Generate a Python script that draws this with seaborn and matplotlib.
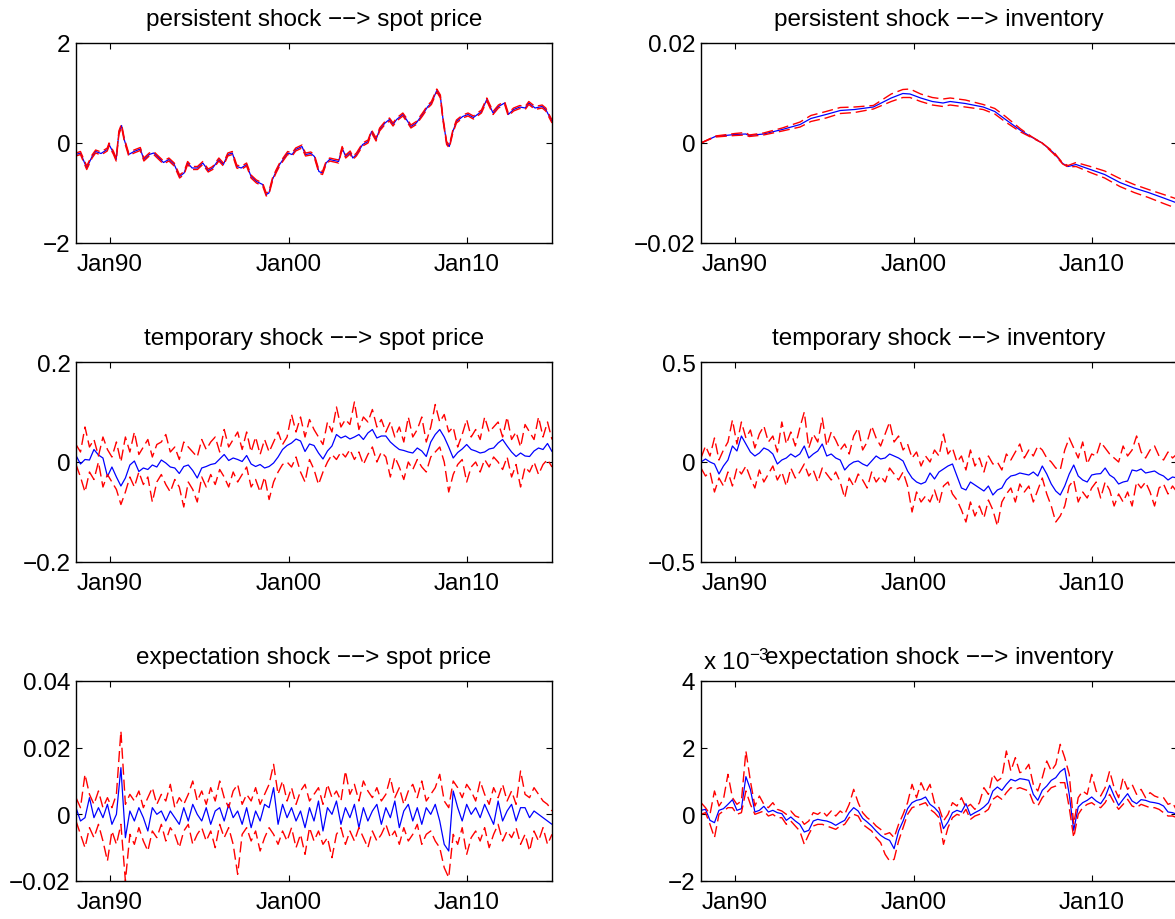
import numpy as np
import matplotlib
matplotlib.use("Agg")
import matplotlib.pyplot as plt
import seaborn as sns

# ---------------- data ----------------
# common quarterly grid (decimal years) for the noisy panels
grid_start, grid_end, grid_n = 1988.1, 2014.75, 107

# persistent shock --> spot price (irregular sampling, decimal years)
pp_years = [1988.1, 1988.35, 1988.7, 1989.0, 1989.2, 1989.5, 1989.85, 1989.95, 1990.2, 1990.35,
            1990.5, 1990.65, 1990.8, 1991.05, 1991.35, 1991.7, 1991.9, 1992.2, 1992.45, 1992.65,
            1993.0, 1993.3, 1993.6, 1993.9, 1994.15, 1994.35, 1994.6, 1994.9, 1995.2, 1995.5,
            1995.75, 1996.1, 1996.35, 1996.6, 1996.85, 1997.1, 1997.35, 1997.65, 1997.9, 1998.2,
            1998.55, 1998.75, 1998.9, 1999.1, 1999.3, 1999.5, 1999.75, 1999.95, 2000.2, 2000.4,
            2000.75, 2000.95, 2001.25, 2001.45, 2001.7, 2001.9, 2002.1, 2002.3, 2002.55, 2002.8,
            2003.0, 2003.2, 2003.45, 2003.6, 2003.8, 2004.15, 2004.45, 2004.65, 2004.9, 2005.1,
            2005.4, 2005.65, 2005.85, 2006.05, 2006.4, 2006.6, 2006.85, 2007.15, 2007.5, 2007.8,
            2008.0, 2008.3, 2008.5, 2008.65, 2008.85, 2009.0, 2009.2, 2009.4, 2009.75, 2010.05,
            2010.35, 2010.8, 2011.1, 2011.45, 2011.75, 2012.1, 2012.3, 2012.6, 2012.95, 2013.25,
            2013.45, 2013.8, 2014.2, 2014.4, 2014.75]
pp_mid = [-0.23, -0.2, -0.5, -0.27, -0.17, -0.21, -0.13, -0.03, -0.2, -0.33,
          0.2, 0.35, 0.07, -0.23, -0.17, -0.12, -0.33, -0.23, -0.2, -0.27,
          -0.39, -0.33, -0.43, -0.67, -0.6, -0.4, -0.5, -0.5, -0.4, -0.55,
          -0.5, -0.33, -0.43, -0.23, -0.2, -0.47, -0.5, -0.43, -0.67, -0.77,
          -0.83, -1.03, -1.0, -0.73, -0.57, -0.43, -0.3, -0.2, -0.23, -0.13,
          -0.07, -0.23, -0.21, -0.27, -0.57, -0.6, -0.4, -0.33, -0.35, -0.37,
          -0.1, -0.27, -0.19, -0.3, -0.23, -0.03, 0.03, 0.23, 0.07, 0.27,
          0.4, 0.47, 0.37, 0.47, 0.57, 0.47, 0.33, 0.4, 0.57, 0.73,
          0.8, 1.05, 0.93, 0.47, 0.0, -0.07, 0.23, 0.43, 0.53, 0.57,
          0.51, 0.63, 0.87, 0.6, 0.73, 0.8, 0.57, 0.67, 0.72, 0.7,
          0.8, 0.7, 0.73, 0.67, 0.43]
pp_hi = [-0.2, -0.17, -0.46, -0.24, -0.14, -0.18, -0.1, 0.0, -0.17, -0.3,
         0.24, 0.38, 0.1, -0.2, -0.14, -0.09, -0.3, -0.2, -0.17, -0.24,
         -0.36, -0.3, -0.4, -0.64, -0.57, -0.37, -0.47, -0.47, -0.37, -0.52,
         -0.47, -0.3, -0.4, -0.2, -0.17, -0.44, -0.47, -0.4, -0.64, -0.74,
         -0.8, -1.0, -0.97, -0.7, -0.54, -0.4, -0.27, -0.17, -0.2, -0.1,
         -0.04, -0.2, -0.18, -0.24, -0.54, -0.57, -0.37, -0.3, -0.32, -0.34,
         -0.07, -0.24, -0.16, -0.27, -0.2, 0.0, 0.06, 0.26, 0.1, 0.3,
         0.43, 0.5, 0.4, 0.5, 0.6, 0.5, 0.36, 0.43, 0.6, 0.76,
         0.83, 1.08, 0.96, 0.5, 0.03, -0.04, 0.26, 0.46, 0.56, 0.6,
         0.54, 0.66, 0.9, 0.63, 0.76, 0.83, 0.6, 0.7, 0.75, 0.73,
         0.83, 0.73, 0.76, 0.7, 0.46]
pp_lo = [-0.26, -0.23, -0.53, -0.3, -0.2, -0.24, -0.16, -0.06, -0.23, -0.36,
         0.17, 0.32, 0.04, -0.26, -0.2, -0.15, -0.36, -0.26, -0.23, -0.3,
         -0.42, -0.36, -0.46, -0.7, -0.63, -0.43, -0.53, -0.53, -0.43, -0.58,
         -0.53, -0.36, -0.46, -0.26, -0.23, -0.5, -0.53, -0.46, -0.7, -0.8,
         -0.86, -1.06, -1.03, -0.76, -0.6, -0.46, -0.33, -0.23, -0.26, -0.16,
         -0.1, -0.26, -0.24, -0.3, -0.6, -0.63, -0.43, -0.36, -0.38, -0.4,
         -0.13, -0.3, -0.22, -0.33, -0.26, -0.06, 0.0, 0.2, 0.04, 0.24,
         0.37, 0.44, 0.34, 0.44, 0.54, 0.44, 0.3, 0.37, 0.54, 0.7,
         0.77, 1.02, 0.9, 0.44, -0.03, -0.1, 0.2, 0.4, 0.5, 0.54,
         0.48, 0.6, 0.84, 0.57, 0.7, 0.77, 0.54, 0.64, 0.69, 0.67,
         0.77, 0.67, 0.7, 0.64, 0.4]

# persistent shock --> inventory
pi_years = [1988.1, 1988.9, 1990.0, 1990.6, 1990.8, 1991.6, 1992.65, 1993.65, 1994.25, 1995.1,
            1995.9, 1996.7, 1997.75, 1998.75, 1999.4, 1999.8, 2000.4, 2001.05, 2001.65, 2002.05,
            2002.9, 2003.9, 2004.55, 2005.15, 2006.0, 2006.6, 2007.2, 2007.85, 2008.35, 2008.65,
            2009.1, 2009.9, 2010.7, 2011.55, 2012.35, 2013.15, 2014.0, 2014.75]
pi_mid = [0.0, 0.0013, 0.0017, 0.0018, 0.0015, 0.0018, 0.0027, 0.0037, 0.0049, 0.0057,
          0.0065, 0.0067, 0.0072, 0.009, 0.0099, 0.0098, 0.009, 0.0083, 0.008, 0.0083,
          0.0079, 0.0072, 0.0063, 0.0047, 0.0025, 0.0012, 0.0, -0.002, -0.0041, -0.0047,
          -0.0043, -0.0053, -0.0063, -0.0079, -0.009, -0.0099, -0.011, -0.012]
pi_hi = [0.0, 0.0014, 0.0019, 0.0021, 0.0016, 0.002, 0.003, 0.0042, 0.0055, 0.0063,
         0.0071, 0.0072, 0.0075, 0.0098, 0.0107, 0.0108, 0.0098, 0.0091, 0.0088, 0.009,
         0.0086, 0.0077, 0.0069, 0.0053, 0.0028, 0.0013, 0.0, -0.0018, -0.004, -0.0045,
         -0.0039, -0.0047, -0.0056, -0.0071, -0.0083, -0.0093, -0.0103, -0.0112]
pi_lo = [0.0, 0.0012, 0.0015, 0.0016, 0.0013, 0.0016, 0.0024, 0.0032, 0.0043, 0.005,
         0.0059, 0.0061, 0.0068, 0.0083, 0.0091, 0.0091, 0.0083, 0.0076, 0.0073, 0.0076,
         0.0072, 0.0067, 0.0058, 0.0042, 0.0022, 0.0011, 0.0, -0.0022, -0.0042, -0.0048,
         -0.0047, -0.0059, -0.007, -0.0087, -0.0099, -0.0109, -0.0121, -0.0131]

# temporary shock --> spot price (quarterly grid)
tp_mid = [0.013, -0.004, 0.005, 0.004, 0.025, 0.014, 0.008, -0.029, -0.01, -0.03,
          -0.048, -0.032, -0.006, 0.002, -0.019, -0.012, -0.015, -0.006, -0.01, 0.004,
          -0.002, -0.01, -0.012, -0.023, -0.009, -0.006, -0.017, -0.032, -0.012, -0.009,
          -0.005, -0.003, 0.006, 0.015, 0.003, 0.008, 0.005, 0.001, 0.013, -0.004,
          -0.009, -0.005, -0.012, -0.009, -0.002, 0.01, 0.025, 0.033, 0.038, 0.046,
          0.042, 0.021, 0.036, 0.033, 0.018, 0.006, 0.022, 0.032, 0.055, 0.048,
          0.052, 0.046, 0.05, 0.055, 0.045, 0.058, 0.065, 0.048, 0.052, 0.052,
          0.04, 0.032, 0.025, 0.023, 0.02, 0.018, 0.028, 0.022, 0.011, 0.04,
          0.055, 0.065, 0.05, 0.03, 0.008, 0.019, 0.026, 0.035, 0.025, 0.022,
          0.018, 0.02, 0.026, 0.028, 0.038, 0.045, 0.032, 0.02, 0.011, 0.018,
          0.012, 0.011, 0.022, 0.028, 0.025, 0.037, 0.021]
tp_hi = [0.035, 0.02, 0.07, 0.03, 0.045, 0.012, 0.05, 0.025, 0.01, 0.04,
         0.0, 0.05, 0.02, 0.06, 0.015, 0.03, 0.045, 0.01, 0.035, 0.04,
         0.055, 0.02, 0.03, 0.005, 0.04, 0.03, 0.02, 0.01, 0.045, 0.025,
         0.04, 0.05, 0.02, 0.065, 0.03, 0.045, 0.06, 0.025, 0.06, 0.02,
         0.05, 0.015, 0.045, 0.02, 0.04, 0.06, 0.035, 0.05, 0.095, 0.06,
         0.09, 0.05, 0.085, 0.065, 0.05, 0.035, 0.08, 0.06, 0.11, 0.07,
         0.085, 0.075, 0.12, 0.065, 0.09, 0.08, 0.105, 0.07, 0.085, 0.06,
         0.08, 0.05, 0.07, 0.04, 0.09, 0.05, 0.065, 0.09, 0.04, 0.07,
         0.115, 0.08, 0.095, 0.06, 0.07, 0.03, 0.055, 0.085, 0.05, 0.065,
         0.045, 0.09, 0.06, 0.07, 0.08, 0.05, 0.09, 0.045, 0.06, 0.03,
         0.075, 0.06, 0.045, 0.09, 0.05, 0.08, 0.045]
tp_lo = [-0.005, -0.03, -0.06, -0.02, -0.035, 0.0, -0.05, -0.025, -0.04, -0.055,
         -0.085, -0.06, -0.03, -0.05, -0.02, -0.045, -0.03, -0.08, -0.04, -0.025,
         -0.045, -0.06, -0.035, -0.05, -0.09, -0.04, -0.055, -0.08, -0.03, -0.05,
         -0.025, -0.045, -0.015, -0.03, -0.05, -0.02, -0.04, -0.025, -0.01, -0.05,
         -0.035, -0.06, -0.03, -0.075, -0.04, -0.02, -0.005, 0.0, -0.01, 0.01,
         -0.02, -0.04, 0.005, -0.015, -0.045, -0.02, 0.0, 0.015, 0.005, 0.02,
         0.01, 0.025, 0.005, 0.02, -0.005, 0.015, 0.03, 0.0, 0.02, 0.01,
         -0.03, 0.01, -0.01, -0.035, 0.0, -0.015, 0.005, -0.01, -0.02, 0.01,
         0.02, 0.03, 0.0, -0.06, -0.025, -0.005, 0.005, -0.04, -0.01, 0.0,
         -0.02, 0.005, -0.01, 0.01, 0.0, -0.015, 0.01, -0.03, -0.005, -0.05,
         -0.01, -0.02, 0.0, -0.025, -0.005, 0.005, -0.01]

# temporary shock --> inventory (quarterly grid)
ti_mid = [0.0, 0.015, 0.0, -0.01, -0.06, -0.02, 0.01, 0.08, 0.055, 0.13,
          0.09, 0.05, 0.03, 0.045, 0.07, 0.06, 0.04, -0.01, 0.01, 0.02,
          0.04, 0.025, 0.04, 0.08, 0.02, 0.04, 0.055, 0.09, 0.03, 0.04,
          0.02, 0.01, -0.04, -0.015, 0.0, 0.005, -0.01, -0.02, 0.005, 0.03,
          0.015, 0.02, 0.04, 0.03, 0.02, 0.005, -0.045, -0.08, -0.1, -0.11,
          -0.1, -0.055, -0.085, -0.05, -0.035, -0.02, -0.01, -0.07, -0.13, -0.14,
          -0.1, -0.115, -0.13, -0.145, -0.12, -0.165, -0.14, -0.13, -0.09, -0.07,
          -0.065, -0.055, -0.06, -0.065, -0.05, -0.07, -0.02, -0.06, -0.11, -0.145,
          -0.165, -0.12, -0.06, -0.015, -0.07, -0.09, -0.1, -0.065, -0.06, -0.058,
          -0.03, -0.065, -0.08, -0.11, -0.1, -0.095, -0.04, -0.045, -0.035, -0.055,
          -0.05, -0.045, -0.06, -0.07, -0.09, -0.075, -0.08]
ti_hi = [0.02, 0.08, 0.03, 0.12, 0.01, 0.06, 0.1, 0.21, 0.09, 0.2,
         0.12, 0.16, 0.07, 0.14, 0.18, 0.1, 0.13, 0.05, 0.2, 0.09,
         0.15, 0.08, 0.17, 0.25, 0.07, 0.14, 0.1, 0.22, 0.08, 0.15,
         0.11, 0.06, 0.09, 0.04, 0.13, 0.17, 0.06, 0.1, 0.18, 0.12,
         0.08, 0.14, 0.2, 0.1, 0.13, 0.06, 0.09, 0.02, 0.05, -0.02,
         0.03, 0.0, 0.06, 0.03, 0.14, 0.04, 0.07, 0.0, 0.03, -0.04,
         0.06, -0.02, 0.02, -0.05, 0.03, -0.01, 0.0, -0.04, 0.04, 0.01,
         0.05, 0.09, 0.02, 0.06, 0.03, 0.08, 0.06, 0.02, 0.0, -0.03,
         -0.04, 0.06, 0.12, 0.07, 0.02, 0.1, -0.01, 0.04, 0.03, 0.1,
         0.07, 0.04, 0.02, 0.0, 0.08, 0.03, 0.06, 0.13, 0.05, 0.02,
         0.06, 0.08, 0.03, 0.01, 0.05, 0.02, 0.04]
ti_lo = [-0.03, -0.07, -0.05, -0.15, -0.08, -0.12, -0.05, -0.12, -0.03, -0.06,
         -0.02, -0.08, -0.13, -0.04, -0.1, -0.06, -0.02, -0.09, -0.05, -0.12,
         -0.03, -0.08, -0.05, -0.01, -0.07, -0.04, -0.1, -0.03, -0.06, -0.09,
         -0.05, -0.1, -0.18, -0.08, -0.12, -0.06, -0.09, -0.13, -0.05, -0.1,
         -0.07, -0.1, -0.03, -0.06, -0.09, -0.05, -0.12, -0.25, -0.15, -0.2,
         -0.17, -0.2, -0.14, -0.21, -0.12, -0.1, -0.16, -0.19, -0.24, -0.3,
         -0.2, -0.27, -0.22, -0.28, -0.19, -0.24, -0.32, -0.2, -0.16, -0.13,
         -0.2, -0.11, -0.15, -0.12, -0.2, -0.14, -0.08, -0.16, -0.22, -0.3,
         -0.27, -0.22, -0.12, -0.09, -0.2, -0.15, -0.18, -0.13, -0.1, -0.18,
         -0.1, -0.14, -0.22, -0.16, -0.2, -0.15, -0.22, -0.1, -0.13, -0.1,
         -0.15, -0.22, -0.13, -0.11, -0.16, -0.12, -0.15]

# expectation shock --> spot price (quarterly grid)
ep_mid = [0.002, -0.002, -0.001, 0.005, -0.001, 0.002, -0.001, 0.003, -0.003, 0.0,
          0.014, -0.007, 0.001, -0.002, 0.002, -0.001, -0.005, 0.002, 0.0, 0.001,
          -0.002, 0.001, -0.001, -0.003, 0.002, -0.002, 0.003, 0.0, -0.002, 0.002,
          -0.003, 0.001, 0.002, -0.002, 0.003, -0.001, 0.001, -0.003, 0.002, -0.004,
          0.001, -0.002, 0.003, 0.002, 0.008, -0.003, 0.003, -0.001, 0.002, -0.002,
          0.001, -0.004, 0.002, -0.002, 0.004, -0.005, 0.002, 0.0, 0.004, -0.003,
          0.002, -0.001, 0.003, -0.004, 0.002, -0.002, 0.001, 0.003, -0.003, 0.002,
          -0.001, 0.004, -0.004, 0.001, 0.003, -0.002, 0.002, -0.003, 0.002, 0.0,
          0.003, -0.002, -0.009, -0.011, 0.007, 0.002, -0.002, 0.003, 0.0, 0.002,
          -0.001, 0.003, 0.0, -0.003, 0.004, -0.002, 0.001, 0.003, -0.002, 0.002,
          0.002, -0.001, 0.001, 0.0, -0.001, -0.002, -0.003]
ep_hi = [0.005, 0.002, 0.012, 0.006, 0.003, 0.007, 0.002, 0.005, 0.002, 0.006,
         0.025, 0.003, 0.006, 0.004, 0.007, 0.002, 0.005, 0.008, 0.003, 0.006,
         0.004, 0.009, 0.002, 0.005, 0.003, 0.006, 0.01, 0.004, 0.007, 0.003,
         0.008, 0.004, 0.01, 0.005, 0.002, 0.007, 0.009, 0.003, 0.006, 0.004,
         0.008, 0.003, 0.006, 0.009, 0.015, 0.006, 0.01, 0.004, 0.008, 0.003,
         0.007, 0.009, 0.004, 0.006, 0.008, 0.003, 0.009, 0.005, 0.007, 0.004,
         0.013, 0.006, 0.009, 0.004, 0.01, 0.007, 0.005, 0.008, 0.004, 0.006,
         0.011, 0.005, 0.008, 0.003, 0.007, 0.009, 0.005, 0.01, 0.004, 0.006,
         0.008, 0.012, 0.004, 0.002, 0.01, 0.008, 0.005, 0.009, 0.007, 0.004,
         0.01, 0.006, 0.003, 0.008, 0.005, 0.009, 0.004, 0.007, 0.003, 0.013,
         0.006, 0.005, 0.008, 0.006, 0.004, 0.003, 0.001]
ep_lo = [-0.002, -0.006, -0.01, -0.004, -0.007, -0.003, -0.008, -0.014, -0.005, -0.009,
         -0.003, -0.02, -0.006, -0.009, -0.004, -0.008, -0.011, -0.005, -0.007, -0.003,
         -0.008, -0.004, -0.006, -0.01, -0.005, -0.003, -0.009, -0.006, -0.004, -0.008,
         -0.005, -0.01, -0.003, -0.007, -0.004, -0.009, -0.018, -0.006, -0.004, -0.008,
         -0.005, -0.011, -0.007, -0.004, -0.006, -0.009, -0.005, -0.008, -0.004, -0.01,
         -0.006, -0.012, -0.004, -0.008, -0.005, -0.009, -0.007, -0.013, -0.006, -0.004,
         -0.009, -0.005, -0.008, -0.004, -0.007, -0.01, -0.005, -0.008, -0.006, -0.003,
         -0.007, -0.005, -0.009, -0.004, -0.008, -0.006, -0.003, -0.009, -0.006, -0.005,
         -0.008, -0.01, -0.016, -0.019, -0.006, -0.009, -0.004, -0.012, -0.007, -0.005,
         -0.008, -0.004, -0.01, -0.006, -0.003, -0.008, -0.005, -0.007, -0.004, -0.009,
         -0.006, -0.011, -0.005, -0.008, -0.004, -0.009, -0.006]

# expectation shock --> inventory, in units of 1e-3 (quarterly grid)
ei_mid = [0.12, 0.15, -0.18, -0.25, 0.12, 0.17, 0.3, 0.44, 0.12, 0.17,
          1.13, 0.75, 0.07, 0.12, 0.24, 0.07, 0.12, 0.05, 0.02, -0.18,
          -0.08, -0.2, -0.3, -0.53, -0.48, -0.2, -0.15, -0.18, -0.2, -0.25,
          -0.33, -0.25, -0.18, 0.05, 0.2, 0.1, -0.12, -0.23, -0.35, -0.5,
          -0.63, -0.72, -0.78, -1.03, -0.5, -0.2, 0.17, 0.35, 0.42, 0.45,
          0.52, 0.3, 0.2, 0.05, -0.43, -0.23, 0.05, 0.12, 0.07, 0.32,
          -0.03, 0.05, 0.12, 0.22, 0.35, 0.7, 0.82, 0.72, 0.9, 1.05,
          1.0, 1.07, 1.05, 1.02, 0.6, 0.42, 0.72, 0.85, 1.02, 1.1,
          1.28, 1.38, 0.6, -0.48, 0.22, 0.35, 0.42, 0.52, 0.4, 0.32,
          0.52, 0.87, 0.55, 0.27, 0.45, 0.62, 0.4, 0.32, 0.44, 0.42,
          0.37, 0.35, 0.32, 0.25, 0.07, 0.05, 0.0]
ei_hi = [0.35, 0.2, 0.0, 0.7, 0.25, 0.45, 1.2, 0.5, 0.3, 0.4,
         1.9, 1.0, 0.25, 0.55, 0.3, 0.2, 0.35, 0.15, 0.1, 0.0,
         0.1, -0.05, -0.1, -0.3, -0.2, 0.05, 0.0, 0.1, -0.05, 0.1,
         -0.05, 0.1, 0.0, 0.3, 0.75, 0.35, 0.05, -0.1, -0.2, -0.35,
         -0.45, -0.6, -0.55, -0.7, -0.3, 0.0, 0.35, 0.9, 0.5, 0.95,
         0.65, 0.9, 0.35, 0.2, -0.2, 0.0, 0.35, 0.25, 0.5, 0.2,
         0.3, 0.15, 0.35, 0.8, 0.6, 1.2, 1.0, 1.1, 1.9, 1.3,
         1.7, 1.25, 1.3, 1.5, 0.9, 0.7, 1.1, 1.6, 1.3, 1.5,
         2.1, 1.7, 1.2, -0.3, 0.5, 0.7, 0.6, 1.2, 0.7, 0.55,
         0.8, 1.3, 0.8, 0.5, 1.1, 0.75, 0.9, 0.6, 0.75, 0.5,
         0.65, 0.55, 0.5, 0.5, 0.3, 0.35, 0.1]
ei_lo = [0.0, 0.05, -0.3, -0.7, 0.0, 0.1, 0.2, 0.2, 0.0, 0.05,
         0.7, 0.3, 0.0, 0.05, 0.1, -0.05, 0.0, -0.1, -0.1, -0.3,
         -0.2, -0.35, -0.5, -0.9, -0.6, -0.35, -0.3, -0.3, -0.35, -0.4,
         -0.45, -0.35, -0.3, -0.1, 0.0, -0.05, -0.3, -0.4, -0.5, -0.7,
         -0.85, -1.2, -1.4, -1.35, -0.8, -0.4, 0.0, 0.2, 0.25, 0.3,
         0.35, 0.15, 0.05, -0.1, -0.9, -0.4, -0.1, 0.0, -0.05, 0.15,
         -0.15, -0.05, 0.0, 0.05, 0.15, 0.45, 0.55, 0.45, 0.65, 0.8,
         0.75, 0.8, 0.75, 0.7, 0.35, 0.25, 0.5, 0.65, 0.8, 0.85,
         0.95, 0.95, 0.2, -0.7, 0.0, 0.2, 0.3, 0.35, 0.25, 0.2,
         0.35, 0.6, 0.35, 0.15, 0.3, 0.45, 0.25, 0.2, 0.3, 0.25,
         0.2, 0.2, 0.15, 0.05, -0.05, -0.05, -0.1]

titles = ["persistent shock −−> spot price", "persistent shock −−> inventory",
          "temporary shock −−> spot price", "temporary shock −−> inventory",
          "expectation shock −−> spot price", "expectation shock −−> inventory"]
xtick_years = [1990, 2000, 2010]
xtick_labels = ["Jan90", "Jan00", "Jan10"]
ytick_sets = [([-2, 0, 2], ["−2", "0", "2"]),
              ([-0.02, 0, 0.02], ["−0.02", "0", "0.02"]),
              ([-0.2, 0, 0.2], ["−0.2", "0", "0.2"]),
              ([-0.5, 0, 0.5], ["−0.5", "0", "0.5"]),
              ([-0.02, 0, 0.02, 0.04], ["−0.02", "0", "0.02", "0.04"]),
              ([-2, 0, 2, 4], ["−2", "0", "2", "4"])]
ylims = [(-2, 2), (-0.02, 0.02), (-0.2, 0.2), (-0.5, 0.5), (-0.02, 0.04), (-2, 4)]

# ---------------- style ----------------
sns.set_style("ticks")
FS = 17.5
plt.rcParams.update({
    "font.family": ["Liberation Sans", "DejaVu Sans"],
    "font.size": FS,
    "text.color": "black",
    "axes.labelcolor": "black",
    "axes.titlecolor": "black",
    "mathtext.fontset": "custom",
    "mathtext.rm": "Liberation Sans",
    "mathtext.it": "Liberation Sans:italic",
    "xtick.direction": "in", "ytick.direction": "in",
    "xtick.top": True, "ytick.right": True,
    "xtick.major.size": 4, "ytick.major.size": 4,
    "xtick.major.width": 0.8, "ytick.major.width": 0.8,
    "xtick.major.pad": 7, "ytick.major.pad": 4,
    "axes.linewidth": 1.0,
    "axes.edgecolor": "black",
    "xtick.color": "black", "ytick.color": "black",
    "xtick.labelcolor": "black", "ytick.labelcolor": "black",
})

W, H = 1175, 920
fig = plt.figure(figsize=(W / 100, H / 100), dpi=100)
col_left = [76, 701]
row_top = [44, 363, 682]
aw, ah = 476, 200

grid_years = np.linspace(grid_start, grid_end, grid_n)
panels = [
    (pp_years, pp_mid, pp_lo, pp_hi),
    (pi_years, pi_mid, pi_lo, pi_hi),
    (grid_years, tp_mid, tp_lo, tp_hi),
    (grid_years, ti_mid, ti_lo, ti_hi),
    (grid_years, ep_mid, ep_lo, ep_hi),
    (grid_years, ei_mid, ei_lo, ei_hi),
]

red_dash = (0, (8, 3.5))
for i, (yrs, mid, lo, hi) in enumerate(panels):
    r, c = divmod(i, 2)
    x0 = col_left[c] / W
    y0 = 1 - (row_top[r] + ah) / H
    ax = fig.add_axes([x0, y0, aw / W, ah / H])
    sns.lineplot(x=list(yrs), y=mid, ax=ax, color=(0, 0, 1), linewidth=0.9,
                 errorbar=None, estimator=None)
    sns.lineplot(x=list(yrs), y=lo, ax=ax, color=(1, 0, 0), linewidth=1.0,
                 linestyle=red_dash, errorbar=None, estimator=None)
    sns.lineplot(x=list(yrs), y=hi, ax=ax, color=(1, 0, 0), linewidth=1.0,
                 linestyle=red_dash, errorbar=None, estimator=None)
    ax.set_xlim(grid_start, grid_end)
    ax.set_ylim(*ylims[i])
    ax.set_xticks(xtick_years, labels=xtick_labels)
    ticks, labels = ytick_sets[i]
    ax.set_yticks(ticks, labels=labels)
    ax.tick_params(labelsize=FS, colors="black")
    ax.set_xlabel("")
    ax.set_ylabel("")
    ax.set_title(titles[i], fontsize=FS, pad=13, color="black")
    for s in ax.spines.values():
        s.set_visible(True)
        s.set_linewidth(1.0)
        s.set_color("black")
    if i == 5:
        ax.text(0.005, 1.06, r"x 10$^{\mathregular{-3}}$", transform=ax.transAxes,
                fontsize=FS, va="baseline", ha="left", color="black")

fig.savefig("out.png", dpi=100)
